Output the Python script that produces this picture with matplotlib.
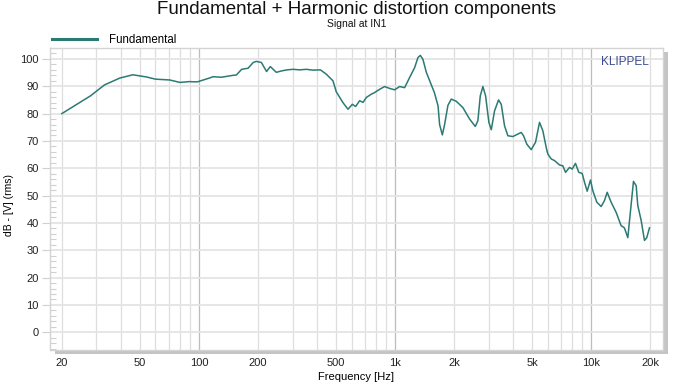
import numpy as np
import matplotlib
matplotlib.use('Agg')
import matplotlib.pyplot as plt
import matplotlib.patches as mpatches
from matplotlib.ticker import FixedLocator, NullFormatter, MultipleLocator

plt.rcParams['font.family'] = ['Liberation Sans', 'DejaVu Sans']

# fundamental response
freq = [20, 28, 33, 39.5, 46, 54, 60, 71, 80, 89, 98, 113, 118, 130, 149, 155, 165, 178,
        189, 196, 208, 221, 231, 248, 263, 281, 302, 326, 353, 381, 416, 446, 482, 501,
        542, 575, 605, 629, 659, 686, 713, 756, 786, 834, 884, 938, 994, 1054, 1118, 1185,
        1257, 1307, 1344, 1385, 1442, 1529, 1585, 1655, 1685, 1740, 1787, 1858, 1932, 2050,
        2215, 2396, 2562, 2641, 2717, 2801, 2891, 3005, 3091, 3212, 3366, 3475, 3612, 3755,
        3981, 4222, 4394, 4514, 4692, 4940, 5196, 5445, 5662, 5890, 6002, 6250, 6494, 6887,
        7159, 7391, 7741, 7990, 8305, 8633, 8986, 9232, 9528, 9904, 10176, 10665, 11229,
        11674, 12050, 12616, 13379, 14188, 14748, 15350, 15785, 16406, 16934, 17253, 17954,
        18666, 19176, 19790]
level = [80.0, 86.5, 90.5, 93.0, 94.2, 93.4, 92.6, 92.3, 91.4, 91.7, 91.6, 93.0, 93.5, 93.3,
         94.0, 94.1, 96.2, 96.6, 98.7, 99.1, 98.7, 95.4, 97.2, 95.1, 95.6, 96.0, 96.2, 96.0,
         96.2, 95.9, 96.0, 94.4, 92.0, 88.0, 84.0, 81.6, 83.4, 82.6, 84.7, 84.1, 85.9, 87.1,
         87.7, 88.9, 89.9, 89.2, 88.7, 89.9, 89.5, 93.2, 96.8, 100.5, 101.3, 99.9, 95.1, 90.5,
         87.7, 82.8, 76.0, 72.2, 76.0, 83.0, 85.3, 84.5, 82.2, 78.0, 75.3, 77.4, 86.5, 89.9,
         86.5, 76.8, 74.1, 81.0, 85.0, 83.4, 75.5, 71.9, 71.6, 72.5, 73.1, 71.9, 68.8, 66.8,
         69.5, 76.8, 73.7, 67.6, 65.2, 63.4, 62.8, 61.2, 60.9, 58.5, 60.3, 59.7, 61.8, 58.5,
         58.1, 54.9, 51.6, 55.7, 51.8, 47.6, 46.0, 48.2, 51.2, 47.6, 43.9, 39.0, 38.2, 34.6,
         43.3, 55.2, 53.6, 46.4, 40.9, 33.6, 34.6, 38.2]

xtick_vals = [20, 50, 100, 200, 500, 1000, 2000, 5000, 10000, 20000]
xtick_labels = ['20', '50', '100', '200', '500', '1k', '2k', '5k', '10k', '20k']
grid_freqs = [m * 10 ** e for e in range(1, 5) for m in range(1, 10) if 20 <= m * 10 ** e <= 20000]
decade_freqs = [100, 1000, 10000]

W, H = 693, 388
fig = plt.figure(figsize=(W / 100, H / 100), dpi=100)
L, R, T, B = 50, 663, 48, 350
ax = fig.add_axes([L / W, 1 - B / H, (R - L) / W, (B - T) / H])
ax.set_facecolor('white')
ax.set_zorder(2)

# drop shadow right/bottom
shadow = mpatches.Rectangle(((L + 5) / W, 1 - (B + 4) / H), (R - L) / W, (B - T) / H,
                            transform=fig.transFigure, facecolor='#c4c4c4',
                            edgecolor='none', zorder=0)
fig.patches.append(shadow)

ax.set_xscale('log')
ax.set_xlim(17.4, 23200)
ax.set_ylim(-6.5, 104)

for f in grid_freqs:
    c = '#bcbcbc' if f in decade_freqs else '#dedede'
    ax.axvline(f, color=c, lw=0.9, zorder=1)
for v in range(0, 101, 10):
    ax.axhline(v, color='#e4e4e4', lw=1.3, zorder=1)

ax.plot(freq, level, color='#2b7a74', lw=1.1, zorder=3, label='Fundamental')

ax.xaxis.set_major_locator(FixedLocator(xtick_vals))
ax.set_xticklabels(xtick_labels)
ax.xaxis.set_minor_formatter(NullFormatter())
ax.tick_params(axis='x', which='both', length=0, pad=6, labelsize=8, colors='#222222')
ax.yaxis.set_major_locator(FixedLocator(list(range(0, 101, 10))))
ax.yaxis.set_minor_locator(MultipleLocator(2))
ax.tick_params(axis='y', which='major', length=6, width=0.8, color='#d0d0d0',
               pad=2, labelsize=8, labelcolor='#222222')
ax.tick_params(axis='y', which='minor', direction='in', length=4.5, width=0.8, color='#d0d0d0')

for s in ax.spines.values():
    s.set_color('#d4d4d4')
    s.set_linewidth(1)

ax.set_xlabel('Frequency [Hz]', fontsize=8)
ax.xaxis.set_label_coords(0.5, -0.073)
ax.set_ylabel('dB - [V] (rms)', fontsize=7.5)
ax.yaxis.set_label_coords(-0.058, 0.48)

ax.text(0.977, 0.954, 'KLIPPEL', transform=ax.transAxes, ha='right', va='center',
        fontsize=8.5, color='#3b4b8f')

leg = ax.legend(loc='lower left', bbox_to_anchor=(0.0, 1.0), frameon=False, fontsize=8.3,
                handlelength=3.9, handletextpad=1.0, borderaxespad=0.1, borderpad=0.1)
for h in leg.get_lines():
    h.set_linewidth(2.2)

cx = (L + R) / 2 / W
fig.text(cx, 1 - 10 / H, 'Fundamental + Harmonic distortion components', ha='center',
         va='center', fontsize=13.5, color='#111111')
fig.text(cx, 1 - 24 / H, 'Signal at IN1', ha='center', va='center', fontsize=7.5,
         color='#111111')

fig.savefig('out.png', dpi=100)
